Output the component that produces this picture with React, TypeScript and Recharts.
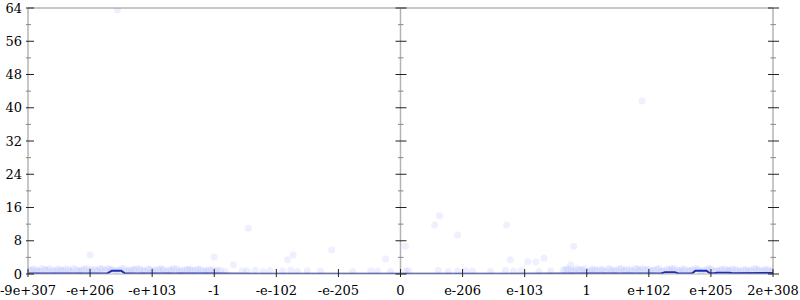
import React from "react";
import {
  ComposedChart,
  XAxis,
  YAxis,
  Scatter,
  Line,
  ReferenceLine,
} from "recharts";

const xTickLabels = [
  "-9e+307", "-e+206", "-e+103", "-1", "-e-102", "-e-205", "0",
  "e-206", "e-103", "1", "e+102", "e+205", "2e+308",
];
const xTicks = [0, 1, 2, 3, 4, 5, 6, 7, 8, 9, 10, 11, 12];
const yTicks = [0, 4, 8, 12, 16, 20, 24, 28, 32, 36, 40, 44, 48, 52, 56, 60, 64];

// faint sample points (x in axis index units, y = value)
const scatterX = [
  0.02, 0.1, 0.18, 0.27, 0.35, 0.44, 0.52, 0.6, 0.69, 0.78, 0.86, 0.95, 1.03, 1.12, 1.2, 1.29, 1.37, 1.46, 1.55, 1.63,
  1.71, 1.8, 1.88, 1.97, 2.05, 2.14, 2.22, 2.31, 2.4, 2.48, 2.57, 2.65, 2.74, 2.83, 2.91, 3.0, 3.1, 3.18,
  0.06, 0.14, 0.22, 0.31, 0.4, 0.48, 0.56, 0.65, 0.73, 0.82, 0.9, 0.99, 1.08, 1.16, 1.25, 1.33, 1.42, 1.5, 1.59,
  1.67, 1.75, 1.84, 1.93, 2.01, 2.1, 2.18, 2.27, 2.35, 2.44, 2.53, 2.61, 2.7, 2.78, 2.87, 2.96, 3.05,
  3.45, 3.53, 3.66, 3.79, 3.9, 4.1, 4.23, 4.34, 4.5, 4.71, 5.23, 5.52, 5.63, 5.84, 6.08, 6.13, 6.61, 6.77, 6.92,
  7.05, 7.16, 7.45, 7.69, 7.82, 7.94, 8.23, 8.42,
  8.62, 8.7, 8.79, 8.88, 8.96, 9.05, 9.13, 9.22, 9.3, 9.39, 9.47, 9.56, 9.64, 9.73, 9.82, 9.9, 9.99, 10.07, 10.16,
  10.24, 10.33, 10.41, 10.5, 10.58, 10.67, 10.76, 10.84, 10.93, 11.01, 11.1, 11.18, 11.27, 11.35, 11.44, 11.53,
  11.61, 11.7, 11.78, 11.87, 11.95,
  8.66, 8.75, 8.83, 8.92, 9.0, 9.09, 9.17, 9.26, 9.35, 9.43, 9.52, 9.6, 9.69, 9.78, 9.86, 9.95, 10.03, 10.12,
  10.2, 10.29, 10.37, 10.46, 10.54, 10.63, 10.71, 10.8, 10.88, 10.97, 11.06, 11.14, 11.23, 11.31, 11.4, 11.48,
  11.57, 11.65, 11.74, 11.83, 11.91, 11.99,
  1.44, 9.89, 1.0, 3.0, 3.31, 3.55, 4.27, 4.89, 4.18, 5.76, 6.08, 6.63, 6.55, 6.92, 7.71, 8.79, 8.18, 8.31, 8.74,
  7.77, 8.05,
];
const scatterY = [
  0.9, 1.2, 0.7, 1.1, 1.3, 0.8, 1.0, 1.2, 0.6, 1.1, 0.9, 1.3, 1.0, 0.7, 1.2, 1.4, 1.1, 0.9, 1.3, 0.8,
  1.0, 1.2, 0.7, 1.1, 0.9, 1.3, 0.6, 1.0, 1.2, 0.8, 1.1, 0.9, 1.2, 0.7, 1.0, 0.8, 0.9, 0.6,
  1.1, 0.8, 1.3, 0.9, 0.7, 1.2, 0.8, 1.0, 1.3, 0.7, 1.2, 0.8, 1.1, 1.3, 0.9, 1.0, 0.8, 1.2, 0.7,
  1.1, 1.3, 0.9, 1.2, 0.8, 1.0, 1.1, 0.9, 1.3, 0.7, 1.0, 1.2, 0.9, 1.1, 0.8, 1.0, 0.9,
  0.8, 0.7, 0.9, 0.6, 0.8, 0.7, 0.9, 0.6, 0.8, 0.7, 0.6, 0.8, 0.7, 0.6, 0.8, 0.7, 0.9, 0.6, 0.7,
  0.8, 0.7, 0.6, 0.9, 0.7, 0.8, 0.6, 0.8,
  0.9, 1.2, 0.7, 1.1, 1.3, 0.8, 1.0, 1.2, 0.6, 1.1, 0.9, 1.3, 1.0, 0.7, 1.2, 1.4, 1.1, 0.9, 1.3,
  0.8, 1.0, 1.2, 0.7, 1.1, 0.9, 1.3, 0.6, 1.0, 1.2, 0.8, 1.1, 0.9, 1.2, 0.7, 1.0,
  0.8, 1.3, 0.9, 1.1, 0.7,
  1.1, 0.8, 1.3, 0.9, 0.7, 1.2, 0.8, 1.0, 1.3, 0.7, 1.2, 0.8, 1.1, 1.3, 0.9, 1.0, 0.8, 1.2,
  0.7, 1.1, 1.3, 0.9, 1.2, 0.8, 1.0, 1.1, 0.9, 1.3, 0.7, 1.0, 1.2, 0.9, 1.1, 0.8,
  1.0, 0.9, 1.2, 0.8, 1.1, 0.9,
  63.5, 41.6, 4.6, 4.1, 2.2, 11, 4.6, 5.8, 3.4, 3.6, 6.7, 14, 11.8, 9.4, 11.8, 6.7, 2.9, 3.8, 2.2,
  3.4, 3.0,
];

const lineX = [0, 1.28, 1.35, 1.5, 1.56, 3, 6, 9, 10.2, 10.26, 10.42, 10.47, 10.7, 10.75, 10.93, 10.98, 11.05, 11.1, 11.3, 11.35, 12];
const lineY = [0.15, 0.15, 0.8, 0.8, 0.15, 0.1, 0.05, 0.1, 0.15, 0.45, 0.45, 0.15, 0.15, 0.8, 0.8, 0.2, 0.2, 0.3, 0.3, 0.2, 0.25];

const scatterData = scatterX.map((x, i) => ({ x, y: scatterY[i] }));
const lineData = lineX.map((x, i) => ({ x, y: lineY[i] }));

const W = 800;
const H = 300;
const LEFT = 28;
const RIGHT = 27;
const PW = W - LEFT - RIGHT;
const FONT = "'DejaVu Serif', serif";

const YTick = (props: any) => {
  const { x, y, payload } = props;
  const v = payload.value;
  const major = v % 8 === 0;
  const offs = [0, PW / 2, PW];
  return (
    <g>
      {offs.map((o, i) => {
        const cx = x + o;
        const a = i === 0 ? 2 : major ? 5 : 2.5;
        const b = i === 0 ? (major ? 6 : 3) : major ? 6 : 3;
        return (
          <line
            key={i}
            x1={cx - a}
            x2={cx + b}
            y1={y}
            y2={y}
            stroke={major ? "#222" : "#888"}
            strokeWidth={1}
          />
        );
      })}
      {major && (
        <text
          x={x - 6}
          y={y}
          dy="0.35em"
          textAnchor="end"
          fontSize={13}
          fontFamily={FONT}
          fill="#000"
        >
          {v}
        </text>
      )}
    </g>
  );
};

const XTick = (props: any) => {
  const { x, y, payload } = props;
  const label = xTickLabels[payload.value];
  return (
    <g>
      <line x1={x} x2={x} y1={y - 5} y2={y + 3} stroke="#222" strokeWidth={1} />
      <text
        x={x}
        y={y + 16}
        dy="0.35em"
        textAnchor="middle"
        fontSize={13}
        fontFamily={FONT}
        fill="#000"
      >
        {label}
      </text>
    </g>
  );
};

const Dot = (props: any) => {
  const { cx, cy } = props;
  return <circle cx={cx} cy={cy} r={3.5} fill="#1428ff" fillOpacity={0.07} />;
};

export default function App() {
  return (
    <div style={{ position: "absolute", left: 0, top: 0, width: W, height: H, background: "#fff" }}>
      <ComposedChart
        width={W}
        height={H}
        margin={{ top: 8, right: RIGHT, bottom: 0, left: 0 }}
      >
        <ReferenceLine x={6} stroke="#b4b4b4" strokeWidth={1.5} />
        <ReferenceLine x={12} stroke="#b4b4b4" strokeWidth={1.5} />
        <ReferenceLine y={64} stroke="#b4b4b4" strokeWidth={1.5} />
        <XAxis
          type="number"
          dataKey="x"
          domain={[0, 12]}
          ticks={xTicks}
          interval={0}
          height={26}
          tickSize={0}
          tickMargin={0}
          tick={<XTick />}
          axisLine={{ stroke: "#b4b4b4", strokeWidth: 1 }}
          allowDataOverflow
        />
        <YAxis
          type="number"
          dataKey="y"
          domain={[0, 64]}
          ticks={yTicks}
          interval={0}
          width={LEFT}
          tickSize={0}
          tickMargin={0}
          tick={<YTick />}
          axisLine={{ stroke: "#b4b4b4", strokeWidth: 1.5 }}
          allowDataOverflow
        />
        <Scatter data={scatterData} dataKey="y" shape={<Dot />} isAnimationActive={false} />
        <Line
          data={lineData}
          dataKey="y"
          type="linear"
          stroke="#2430a0"
          strokeWidth={2}
          dot={false}
          activeDot={false}
          isAnimationActive={false}
        />
      </ComposedChart>
    </div>
  );
}
